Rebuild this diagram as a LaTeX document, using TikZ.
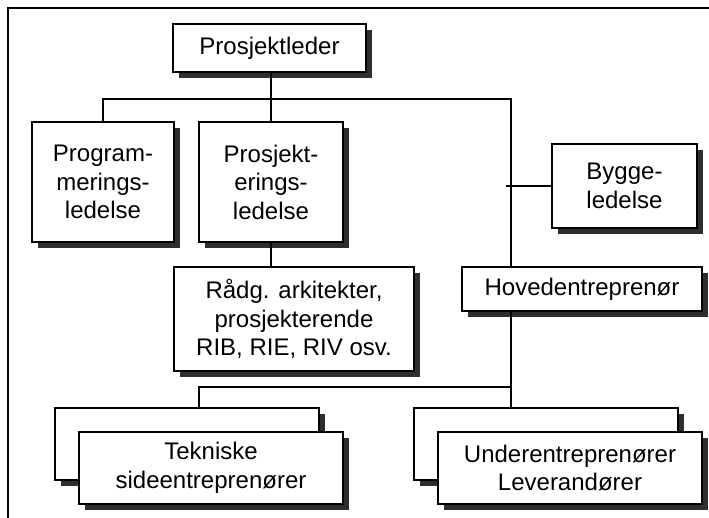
\documentclass[tikz,border=0pt]{standalone}
\usepackage{fontspec}
\setmainfont{Liberation Sans}
\usetikzlibrary{shadows}
\begin{document}
\begin{tikzpicture}[x=1pt,y=1pt,
  unit/.style={draw=black, line width=1.4pt, fill=white, align=center,
    inner sep=0pt, font=\fontsize{24}{28.5}\selectfont,
    drop shadow={shadow xshift=6pt, shadow yshift=-6pt, fill=black!82, opacity=1}},
  link/.style={line width=1.4pt}]
\useasboundingbox (0,0) rectangle (709,518);
% frame (top and left edges)
\draw[line width=2.2pt] (8,0) -- (8,510) -- (709,510);

% boxes
\node[unit, minimum width=193, minimum height=48] (pl) at (269.5,470) {Prosjektleder};
\node[unit, minimum width=142, minimum height=120] (pm) at (103,336) {Program-\\merings-\\ledelse};
\node[unit, minimum width=144, minimum height=120] (pe) at (271,336) {Prosjekt-\\erings-\\ledelse};
\node[unit, minimum width=145, minimum height=84] (bl) at (624.5,332) {Bygge-\\ledelse};
\node[unit, minimum width=240, minimum height=104] (ra) at (294,199) {Rådg. arkitekter,\\prosjekterende\\RIB, RIE, RIV osv.};
\node[unit, minimum width=240, minimum height=44] (he) at (582,229) {Hovedentreprenør};
\node[unit, minimum width=264, minimum height=72] (tsb) at (187,74) {};
\node[unit, minimum width=264, minimum height=72] (ts) at (211,50) {Tekniske\\sideentreprenører};
\node[unit, minimum width=264, minimum height=72] (ulb) at (546,74) {};
\node[unit, minimum width=264, minimum height=72] (ul) at (570,50) {Underentreprenører\\Leverandører};

% bus coordinates
\coordinate (busL) at (103,419);
\coordinate (busR) at (511,419);
\coordinate (busB) at (511,131);

% connectors
\draw[link] (pl.south -| pe.north) -- (pe.north);
\draw[link] (pm.north) -- (busL) -- (busR) -- (busR |- he.north);
\draw[link] ([xshift=-5pt]busR |- bl.west) -- (bl.west);
\draw[link] (pe.south) -- (pe.south |- ra.north);
\draw[link] (he.south -| busR) -- (busR |- ulb.north);
\draw[link] (tsb.north -| 199,0) -- (199,131) -- (busB);
\end{tikzpicture}
\end{document}
